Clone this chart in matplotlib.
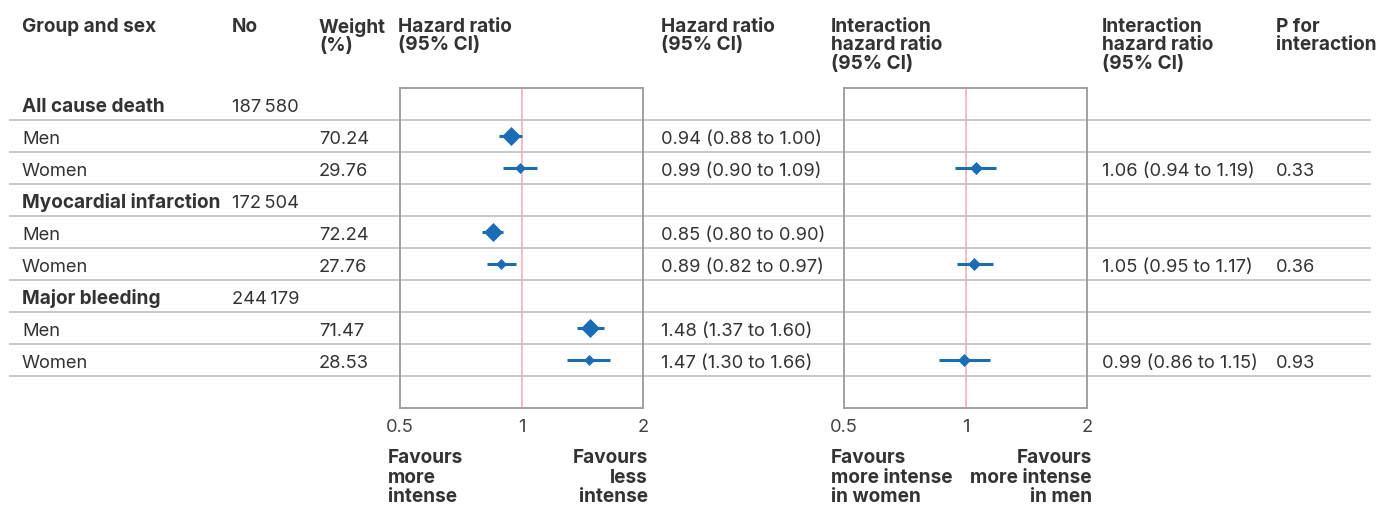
import matplotlib.pyplot as plt

# data
groups = ["All cause death", "Myocardial infarction", "Major bleeding"]
group_n = ["187\u2009580", "172\u2009504", "244\u2009179"]
sexes = ["Men", "Women"]
weight_men = [70.24, 72.24, 71.47]
weight_women = [29.76, 27.76, 28.53]
hr_men = [0.94, 0.85, 1.48]
lo_men = [0.88, 0.80, 1.37]
hi_men = [1.00, 0.90, 1.60]
hr_women = [0.99, 0.89, 1.47]
lo_women = [0.90, 0.82, 1.30]
hi_women = [1.09, 0.97, 1.66]
ihr = [1.06, 1.05, 0.99]
ihr_lo = [0.94, 0.95, 0.86]
ihr_hi = [1.19, 1.17, 1.15]
p_int = [0.33, 0.36, 0.93]
xticks = [0.5, 1, 2]

W, H = 1381, 507
TXT = "#333333"
BLUE = "#1a6db5"
GRID = "#c4c4c4"
FS = 13.2   # regular text
FB = 13.7   # bold text
FAM = ["Inter", "DejaVu Sans"]

plt.rcParams["font.family"] = FAM

fig = plt.figure(figsize=(W / 100, H / 100), dpi=100)
ax = fig.add_axes([0, 0, 1, 1])
ax.set_xlim(0, W)
ax.set_ylim(H, 0)
ax.axis("off")

# column x positions (pixels)
c_group, c_n, c_w, c_fp, c_hr, c_ifp, c_ihr, c_p = 22, 232, 319, 398, 661, 831, 1102, 1276

# headers
hdr = dict(fontsize=FB, fontweight="bold", color=TXT, va="top", linespacing=1.02)
ax.text(c_group, 18, "Group and sex", **hdr)
ax.text(c_n, 18, "No", **hdr)
ax.text(c_w, 18, "Weight\n(%)", **hdr)
ax.text(c_fp, 18, "Hazard ratio\n(95% CI)", **hdr)
ax.text(c_hr, 18, "Hazard ratio\n(95% CI)", **hdr)
ax.text(c_ifp, 18, "Interaction\nhazard ratio\n(95% CI)", **hdr)
ax.text(c_ihr, 18, "Interaction\nhazard ratio\n(95% CI)", **hdr)
ax.text(c_p, 18, "P for\ninteraction", **hdr)

# rows
row0, row_h = 104, 32
rows = []
for g in range(len(groups)):
    rows.append(("group", g, None))
    rows.append(("men", g, 0))
    rows.append(("women", g, 1))
row_y = [row0 + row_h * i for i in range(len(rows))]

base = 8  # baseline offset below row centre
for (kind, g, s), y in zip(rows, row_y):
    ax.plot([10, 1370], [y + row_h / 2, y + row_h / 2], color=GRID, lw=1.3, zorder=1)
    yb = y + base
    if kind == "group":
        ax.text(c_group, yb, groups[g], fontsize=FB, fontweight="bold", color=TXT, va="baseline")
        ax.text(c_n, yb, group_n[g], fontsize=FS, color=TXT, va="baseline")
        continue
    if kind == "men":
        w, hr, lo, hi = weight_men[g], hr_men[g], lo_men[g], hi_men[g]
    else:
        w, hr, lo, hi = weight_women[g], hr_women[g], lo_women[g], hi_women[g]
    ax.text(c_group, yb, sexes[s], fontsize=FS, color=TXT, va="baseline")
    ax.text(c_w, yb, f"{w:.2f}", fontsize=FS, color=TXT, va="baseline")
    ax.text(c_hr, yb, f"{hr:.2f} ({lo:.2f} to {hi:.2f})", fontsize=FS, color=TXT, va="baseline")
    if kind == "women":
        ax.text(c_ihr, yb, f"{ihr[g]:.2f} ({ihr_lo[g]:.2f} to {ihr_hi[g]:.2f})",
                fontsize=FS, color=TXT, va="baseline")
        ax.text(c_p, yb, f"{p_int[g]:.2f}", fontsize=FS, color=TXT, va="baseline")

# forest panels
box_top, box_bot = 88, 408


def panel(x0, x1):
    a = fig.add_axes([x0 / W, (H - box_bot) / H, (x1 - x0) / W, (box_bot - box_top) / H])
    a.set_facecolor("none")
    a.set_xscale("log")
    a.set_xlim(0.5, 2)
    a.set_ylim(box_bot, box_top)
    a.set_yticks([])
    a.set_xticks(xticks)
    a.set_xticklabels([f"{t:g}" for t in xticks])
    a.minorticks_off()
    a.tick_params(axis="x", length=0, pad=8, labelsize=FS, labelcolor="#444444")
    for sp in a.spines.values():
        sp.set_color("#9a9a9a")
        sp.set_linewidth(1.3)
    a.axvline(1, color="#f5a9b2", lw=1.1, zorder=1)
    return a


ax1 = panel(400, 643)
ax2 = panel(844, 1087)

for (kind, g, s), y in zip(rows, row_y):
    if kind == "men":
        w, hr, lo, hi = weight_men[g], hr_men[g], lo_men[g], hi_men[g]
    elif kind == "women":
        w, hr, lo, hi = weight_women[g], hr_women[g], lo_women[g], hi_women[g]
    else:
        continue
    ax1.plot([lo, hi], [y, y], color=BLUE, lw=2.2, solid_capstyle="butt", zorder=3)
    ax1.plot(hr, y, marker="D", ms=0.62 * w ** 0.62, color=BLUE, mec=BLUE, mew=0.5, zorder=4)
    if kind == "women":
        ax2.plot([ihr_lo[g], ihr_hi[g]], [y, y], color=BLUE, lw=2.2, solid_capstyle="butt", zorder=3)
        ax2.plot(ihr[g], y, marker="D", ms=6.0, color=BLUE, mec=BLUE, mew=0.5, zorder=4)

# favours labels
fav = dict(fontsize=FB, fontweight="bold", color=TXT, va="top", linespacing=1.12)
ax.text(388, 449, "Favours\nmore\nintense", ha="left", **fav)
ax.text(648, 449, "Favours\nless\nintense", ha="right", multialignment="right", **fav)
ax.text(831, 449, "Favours\nmore intense\nin women", ha="left", **fav)
ax.text(1092, 449, "Favours\nmore intense\nin men", ha="right", multialignment="right", **fav)

fig.savefig("out.png", dpi=100)
